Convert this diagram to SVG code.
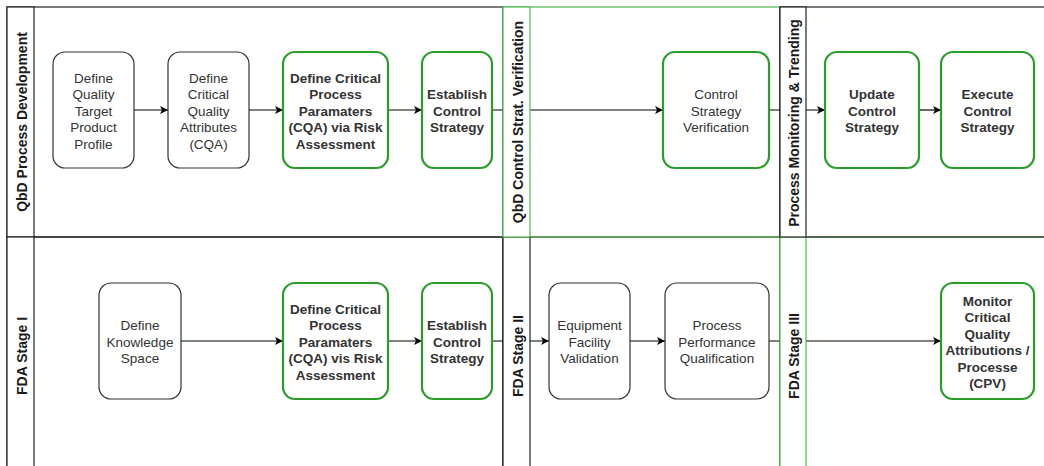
<svg xmlns="http://www.w3.org/2000/svg" width="1044" height="466" viewBox="0 0 1044 466">
  <style>
    .lane { fill: none; stroke: #222; stroke-width: 1.2; }
    .lane.g { stroke: #4DB84D; }
    .hdr { fill: #fff; stroke: #222; stroke-width: 1.2; }
    .hdr.g { stroke: #4DB84D; }
    .hdr-t { font-family: "Liberation Sans", Arial, sans-serif; font-size: 14px; font-weight: bold; fill: #1a1a1a; text-anchor: middle; }
    .box { fill: #fff; stroke: #333; stroke-width: 1.2; }
    .box.g { stroke: #2A9D2A; stroke-width: 2.2; }
    .lbl { font-family: "Liberation Sans", Arial, sans-serif; font-size: 13.5px; fill: #333; text-anchor: middle; }
    .lbl.b { font-weight: bold; }
    .edge { fill: none; stroke: #000; stroke-width: 1.2; marker-end: url(#arrow); }
  </style>
  <defs>
    <marker id="arrow" markerUnits="userSpaceOnUse" markerWidth="10" markerHeight="10" refX="8" refY="4" orient="auto">
      <path d="M0,0 L8,4 L0,8 L2,4 Z" fill="#000"/>
    </marker>
  </defs>

  <rect width="1044" height="466" fill="#fff"/>

  <!-- lane bodies -->
  <g id="lanes">
    <rect class="lane" x="7" y="7" width="496" height="230"/>
    <rect class="lane" x="7" y="237" width="496" height="250"/>
    <rect class="lane" x="503" y="237" width="277" height="250"/>
    <rect class="lane g" x="503" y="7" width="277" height="230"/>
    <rect class="lane g" x="780" y="237" width="290" height="250"/>
    <rect class="lane" x="780" y="7" width="290" height="230"/>
  </g>

  <!-- connectors -->
  <g id="connectors">
    <path class="edge" d="M134,110 H168"/>
    <path class="edge" d="M249,110 H283"/>
    <path class="edge" d="M388,110 H422"/>
    <path class="edge" d="M492,110 H663"/>
    <path class="edge" d="M769,110 H825"/>
    <path class="edge" d="M919,110 H941"/>
    <path class="edge" d="M181,341 H283"/>
    <path class="edge" d="M388,341 H422"/>
    <path class="edge" d="M492,341 H549"/>
    <path class="edge" d="M630,341 H665"/>
    <path class="edge" d="M769,341 H941"/>
  </g>

  <!-- lane headers -->
  <g id="lane-headers">
    <g id="hdr-qbd-dev">
      <rect class="hdr" x="7" y="7" width="27" height="230"/>
      <text class="hdr-t" transform="translate(26.5,122) rotate(-90)">QbD Process Development</text>
    </g>
    <g id="hdr-fda-1">
      <rect class="hdr" x="7" y="237" width="27" height="250"/>
      <text class="hdr-t" transform="translate(26.5,356) rotate(-90)">FDA Stage I</text>
    </g>
    <g id="hdr-fda-2">
      <rect class="hdr" x="503" y="237" width="27" height="250"/>
      <text class="hdr-t" transform="translate(522.5,356) rotate(-90)">FDA Stage II</text>
    </g>
    <g id="hdr-qbd-verif">
      <rect class="hdr g" x="503" y="7" width="27" height="230"/>
      <text class="hdr-t" transform="translate(522.5,122) rotate(-90)">QbD Control Strat. Verification</text>
    </g>
    <g id="hdr-fda-3">
      <rect class="hdr g" x="780" y="237" width="26" height="250"/>
      <text class="hdr-t" transform="translate(799,356) rotate(-90)">FDA Stage III</text>
    </g>
    <g id="hdr-monitoring">
      <rect class="hdr" x="780" y="7" width="26" height="230"/>
      <text class="hdr-t" transform="translate(799,123) rotate(-90)">Process Monitoring &amp; Trending</text>
    </g>
  </g>

  <!-- top lane nodes -->
  <g id="n-qtpp">
    <rect class="box" x="53" y="52" width="81" height="116" rx="12"/>
    <text class="lbl"><tspan x="93.5" y="82.5">Define</tspan><tspan x="93.5" y="99">Quality</tspan><tspan x="93.5" y="115.5">Target</tspan><tspan x="93.5" y="132">Product</tspan><tspan x="93.5" y="148.5">Profile</tspan></text>
  </g>
  <g id="n-cqa">
    <rect class="box" x="168" y="52" width="81" height="116" rx="12"/>
    <text class="lbl"><tspan x="208.5" y="82.5">Define</tspan><tspan x="208.5" y="99">Critical</tspan><tspan x="208.5" y="115.5">Quality</tspan><tspan x="208.5" y="132">Attributes</tspan><tspan x="208.5" y="148.5">(CQA)</tspan></text>
  </g>
  <g id="n-cpp-top">
    <rect class="box g" x="283" y="52" width="105" height="116" rx="12"/>
    <text class="lbl b"><tspan x="335.5" y="82.5">Define Critical</tspan><tspan x="335.5" y="99">Process</tspan><tspan x="335.5" y="115.5">Paramaters</tspan><tspan x="335.5" y="132">(CQA) via Risk</tspan><tspan x="335.5" y="148.5">Assessment</tspan></text>
  </g>
  <g id="n-establish-top">
    <rect class="box g" x="422" y="52" width="70" height="116" rx="12"/>
    <text class="lbl b"><tspan x="457" y="99">Establish</tspan><tspan x="457" y="115.5">Control</tspan><tspan x="457" y="132">Strategy</tspan></text>
  </g>
  <g id="n-verification">
    <rect class="box g" x="663" y="52" width="106" height="116" rx="12"/>
    <text class="lbl"><tspan x="716" y="99">Control</tspan><tspan x="716" y="115.5">Strategy</tspan><tspan x="716" y="132">Verification</tspan></text>
  </g>
  <g id="n-update">
    <rect class="box g" x="825" y="52" width="94" height="116" rx="12"/>
    <text class="lbl b"><tspan x="872" y="99">Update</tspan><tspan x="872" y="115.5">Control</tspan><tspan x="872" y="132">Strategy</tspan></text>
  </g>
  <g id="n-execute">
    <rect class="box g" x="941" y="52" width="93" height="116" rx="12"/>
    <text class="lbl b"><tspan x="987.5" y="99">Execute</tspan><tspan x="987.5" y="115.5">Control</tspan><tspan x="987.5" y="132">Strategy</tspan></text>
  </g>

  <!-- bottom lane nodes -->
  <g id="n-knowledge">
    <rect class="box" x="99" y="283" width="82" height="116" rx="12"/>
    <text class="lbl"><tspan x="140" y="330">Define</tspan><tspan x="140" y="346.5">Knowledge</tspan><tspan x="140" y="363">Space</tspan></text>
  </g>
  <g id="n-cpp-bottom">
    <rect class="box g" x="283" y="283" width="105" height="116" rx="12"/>
    <text class="lbl b"><tspan x="335.5" y="313.5">Define Critical</tspan><tspan x="335.5" y="330">Process</tspan><tspan x="335.5" y="346.5">Paramaters</tspan><tspan x="335.5" y="363">(CQA) vis Risk</tspan><tspan x="335.5" y="379.5">Assessment</tspan></text>
  </g>
  <g id="n-establish-bottom">
    <rect class="box g" x="422" y="283" width="70" height="116" rx="12"/>
    <text class="lbl b"><tspan x="457" y="330">Establish</tspan><tspan x="457" y="346.5">Control</tspan><tspan x="457" y="363">Strategy</tspan></text>
  </g>
  <g id="n-equipment">
    <rect class="box" x="549" y="283" width="81" height="116" rx="12"/>
    <text class="lbl"><tspan x="589.5" y="330">Equipment</tspan><tspan x="589.5" y="346.5">Facility</tspan><tspan x="589.5" y="363">Validation</tspan></text>
  </g>
  <g id="n-ppq">
    <rect class="box" x="665" y="283" width="104" height="116" rx="12"/>
    <text class="lbl"><tspan x="717" y="330">Process</tspan><tspan x="717" y="346.5">Performance</tspan><tspan x="717" y="363">Qualification</tspan></text>
  </g>
  <g id="n-cpv">
    <rect class="box g" x="941" y="283" width="93" height="116" rx="12"/>
    <text class="lbl b"><tspan x="987.5" y="305.5">Monitor</tspan><tspan x="987.5" y="322">Critical</tspan><tspan x="987.5" y="338.5">Quality</tspan><tspan x="987.5" y="355">Attributions /</tspan><tspan x="987.5" y="371.5">Processe</tspan><tspan x="987.5" y="388">(CPV)</tspan></text>
  </g>
</svg>
